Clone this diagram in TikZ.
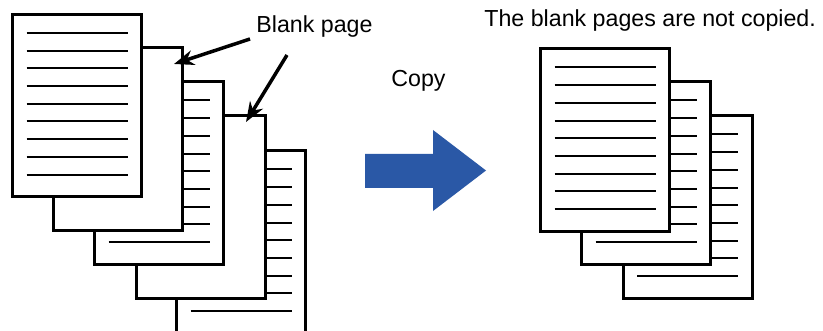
\documentclass[tikz,border=0pt]{standalone}
\usepackage{fontspec}
\setmainfont{Liberation Sans}
\usetikzlibrary{arrows.meta,calc}
\definecolor{CopyBlue}{RGB}{42,88,166}
\tikzset{
  nd_page/.style={
    rectangle, draw=black, fill=white, line width=1.5pt,
    minimum width=64.5pt, minimum height=91pt, inner sep=0pt},
  ln_text/.style={line width=1pt},
  arr/.style={-{Stealth[length=10pt,width=7.5pt]},line width=1.75pt},
  lbl/.style={font=\fontsize{11.6pt}{13pt}\selectfont,inner sep=0pt},
}
% nine text lines on a page node
\newcommand{\pagelines}[1]{%
  \foreach \k in {0,...,8}
    \draw[ln_text] ($(#1.north west)+(15.5,20+17.7*\k)$)
      -- ($(#1.north east)+(-15.5,20+17.7*\k)$);}

\begin{document}
\begin{tikzpicture}[x=0.5pt,y=-0.5pt]
\useasboundingbox (0,0) rectangle (823,331);
% original stack, back to front
\node[nd_page] (src5) at (241,242) {};
\pagelines{src5}
\node[nd_page] (src4) at (201,207) {};
\node[nd_page] (src3) at (159,173) {};
\pagelines{src3}
\node[nd_page] (src2) at (118,139) {};
\node[nd_page] (src1) at (77,105.5) {};
\pagelines{src1}

\node[lbl,anchor=base west] (blank) at (256,32.3) {Blank page};
\coordinate (blank_a) at (250,39);
\coordinate (blank_b) at (287,55);
\coordinate (tip_a) at (174,64);
\coordinate (tip_b) at (246,122);
\draw[arr] (blank_a) -- (tip_a);
\draw[arr] (blank_b) -- (tip_b);

% copy arrow
\node[lbl,anchor=base west] (copy) at (391,86.7) {Copy};
\fill[CopyBlue] (365,154) -- (433,154) -- (433,130) -- (486,170.5)
  -- (433,211) -- (433,188) -- (365,188) -- cycle;

% copied stack
\node[lbl,anchor=base west] (result) at (484,26.7) {The blank pages are not copied.};
\node[nd_page] (dst3) at (687.5,207) {};
\pagelines{dst3}
\node[nd_page] (dst2) at (646,173) {};
\pagelines{dst2}
\node[nd_page] (dst1) at (605,140) {};
\pagelines{dst1}
\end{tikzpicture}
\end{document}
